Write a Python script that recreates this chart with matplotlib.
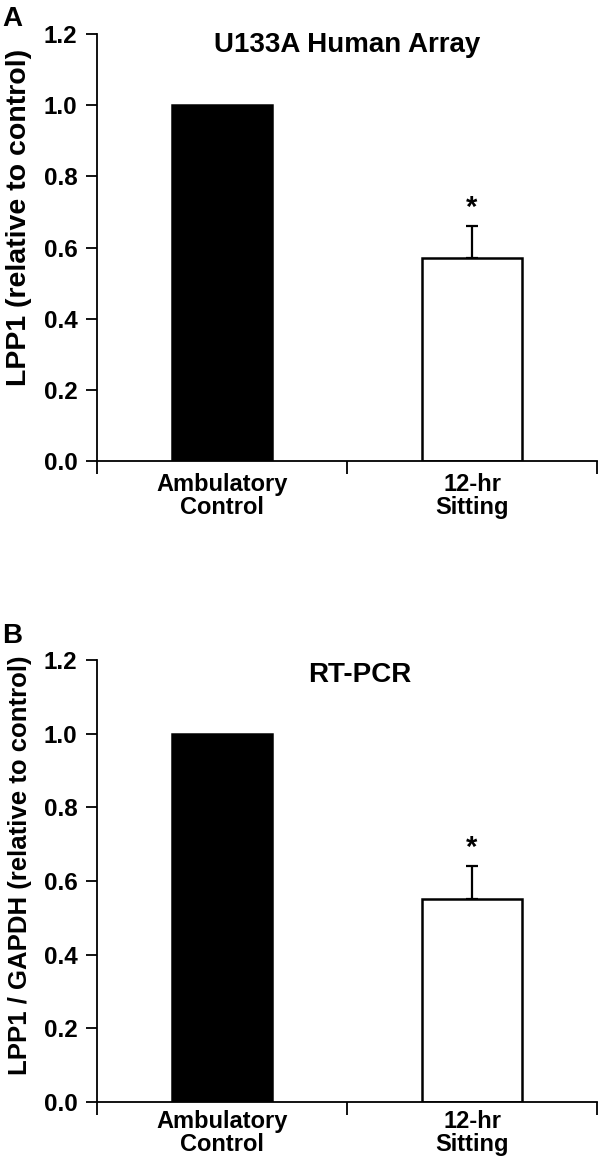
import numpy as np
import matplotlib.pyplot as plt

plt.rcParams['font.family'] = ['Liberation Sans', 'DejaVu Sans']
plt.rcParams['font.weight'] = 'bold'

# data
categories = ['Ambulatory\nControl', '12-hr\nSitting']
array_vals = [1.0, 0.57]
array_err = [0.0, 0.09]
pcr_vals = [1.0, 0.55]
pcr_err = [0.0, 0.09]
yticks = [0.0, 0.2, 0.4, 0.6, 0.8, 1.0, 1.2]

fig = plt.figure(figsize=(6, 11.62), dpi=100)
axA = fig.add_axes([0.1617, 0.6033, 0.8333, 0.3674])
axB = fig.add_axes([0.1617, 0.0516, 0.8333, 0.3804])


def draw(ax, vals, err, title, ylabel, title_x, title_y, ylab_size, ylab_y, pad):
    x = np.arange(len(vals))
    ax.bar(x, vals, width=0.4, color=['black', 'white'], edgecolor='black',
           linewidth=1.8, zorder=2)
    ax.errorbar(x[1:], vals[1:], yerr=[[0], err[1:]], fmt='none', ecolor='black',
                elinewidth=1.6, capsize=4, capthick=1.6, zorder=1)
    ax.text(x[1], vals[1] + err[1] + 0.012, '*', ha='center', va='bottom',
            fontsize=21, fontweight='bold')
    ax.set_xlim(-0.5, 1.5)
    ax.set_ylim(0, 1.2)
    ax.set_yticks(yticks)
    ax.set_yticklabels(['%.1f' % t for t in yticks], fontsize=17.5, fontweight='bold')
    ax.set_xticks([-0.5, 0.5, 1.5])
    ax.set_xticklabels([])
    ax.set_xticks(x, minor=True)
    ax.set_xticklabels(categories, minor=True, fontsize=17, fontweight='bold',
                       linespacing=1.0)
    ax.tick_params(axis='x', which='major', direction='out', length=9, width=1.3)
    ax.tick_params(axis='x', which='minor', length=0, pad=pad)
    ax.tick_params(axis='y', direction='out', length=8, width=1.3, pad=6)
    for s in ['top', 'right']:
        ax.spines[s].set_visible(False)
    for s in ['left', 'bottom']:
        ax.spines[s].set_linewidth(1.3)
    ax.set_ylabel(ylabel, fontsize=ylab_size, fontweight='bold')
    ax.yaxis.set_label_coords(-0.13, ylab_y)
    ax.text(title_x, title_y, title, ha='center', va='center',
            fontsize=20, fontweight='bold')


draw(axA, array_vals, array_err, 'U133A Human Array', 'LPP1 (relative to control)',
     0.5, 1.17, 20.5, 0.57, 9)
draw(axB, pcr_vals, pcr_err, 'RT-PCR', 'LPP1 / GAPDH (relative to control)',
     0.55, 1.16, 18.5, 0.535, 6)

fig.text(2 / 600, 1 - 26 / 1162, 'A', ha='left', va='baseline', fontsize=20, fontweight='bold')
fig.text(2 / 600, 1 - 643 / 1162, 'B', ha='left', va='baseline', fontsize=20, fontweight='bold')

fig.savefig('out.png', dpi=100)
